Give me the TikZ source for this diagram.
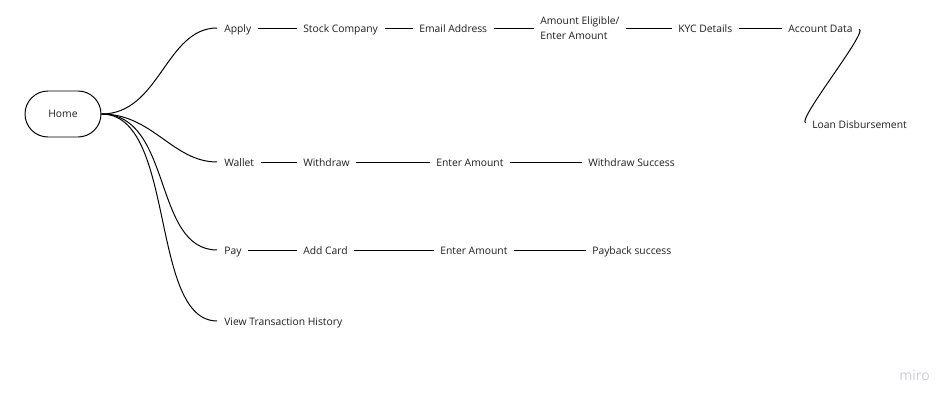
\documentclass[tikz,border=0pt]{standalone}
\usepackage{fontspec}
\setmainfont{Open Sans}
\usepackage{xcolor}
\definecolor{miroGray}{HTML}{CDCDD8}
\definecolor{inkGray}{HTML}{1E1E1E}

\begin{document}
\begin{tikzpicture}[x=0.25mm,y=-0.25mm,
  lbl/.style={anchor=west,inner sep=0pt,text=inkGray,font=\fontsize{7.35}{10.5}\selectfont,text height=1.6ex,text depth=0.45ex},
  lbltwo/.style={anchor=west,inner sep=0pt,text=inkGray,font=\fontsize{7.35}{10.5}\selectfont,align=left},
  homebox/.style={draw,line width=0.7pt,rounded corners=5.75mm,minimum width=19mm,minimum height=11.5mm,text=inkGray,font=\fontsize{7.35}{9}\selectfont},
  link/.style={line width=0.7pt,shorten <=1.6mm,shorten >=1.6mm},
  branch/.style={line width=0.7pt,shorten >=1.7mm}]
\useasboundingbox (0,0) rectangle (952,403);
% Start
\node[homebox] (home) at (63,114) {Home};
% Apply row
\node[lbl] (apply) at (224,28) {Apply};
\node[lbl] (stock) at (303,28) {Stock Company};
\node[lbl] (email) at (419,28) {Email Address};
\node[lbltwo] (eligible) at (540,28) {Amount Eligible/\\Enter Amount};
\node[lbl] (kyc) at (678,28) {KYC Details};
\node[lbl] (account) at (788,28) {Account Data};
\node[lbl] (loan) at (812,124) {Loan Disbursement};
% Wallet row
\node[lbl] (wallet) at (224,162) {Wallet};
\node[lbl] (withdraw) at (303,162) {Withdraw};
\node[lbl] (wamount) at (436,162) {Enter Amount};
\node[lbl] (wsuccess) at (588,162) {Withdraw Success};
% Pay row
\node[lbl] (pay) at (224,250) {Pay};
\node[lbl] (card) at (303,250) {Add Card};
\node[lbl] (pamount) at (440,250) {Enter Amount};
\node[lbl] (psuccess) at (592,250) {Payback success};
% History
\node[lbl] (history) at (224,321) {View Transaction History};
% Watermark
\node[anchor=west,inner sep=0pt,text=miroGray,font=\fontsize{10}{12}\selectfont] (miro) at (899,375) {miro};
%
% Branches out of Home
\draw[branch] (home.east) to[out=0,in=180] (apply.west);
\draw[branch] (home.east) to[out=0,in=180] (wallet.west);
\draw[branch] (home.east) to[out=0,in=180] (pay.west);
\draw[branch] (home.east) to[out=0,in=180,looseness=0.8] (history.west);
% Steps
\draw[link] (apply) -- (stock);
\draw[link] (stock) -- (email);
\draw[link] (email) -- (eligible);
\draw[link] (eligible) -- (kyc);
\draw[link] (kyc) -- (account);
\draw[link] (account.east) to[out=-10,in=170,looseness=0.4] (loan.west);
%
\draw[link] (wallet) -- (withdraw);
\draw[link] (withdraw) -- (wamount);
\draw[link] (wamount) -- (wsuccess);
%
\draw[link] (pay) -- (card);
\draw[link] (card) -- (pamount);
\draw[link] (pamount) -- (psuccess);
\end{tikzpicture}
\end{document}
